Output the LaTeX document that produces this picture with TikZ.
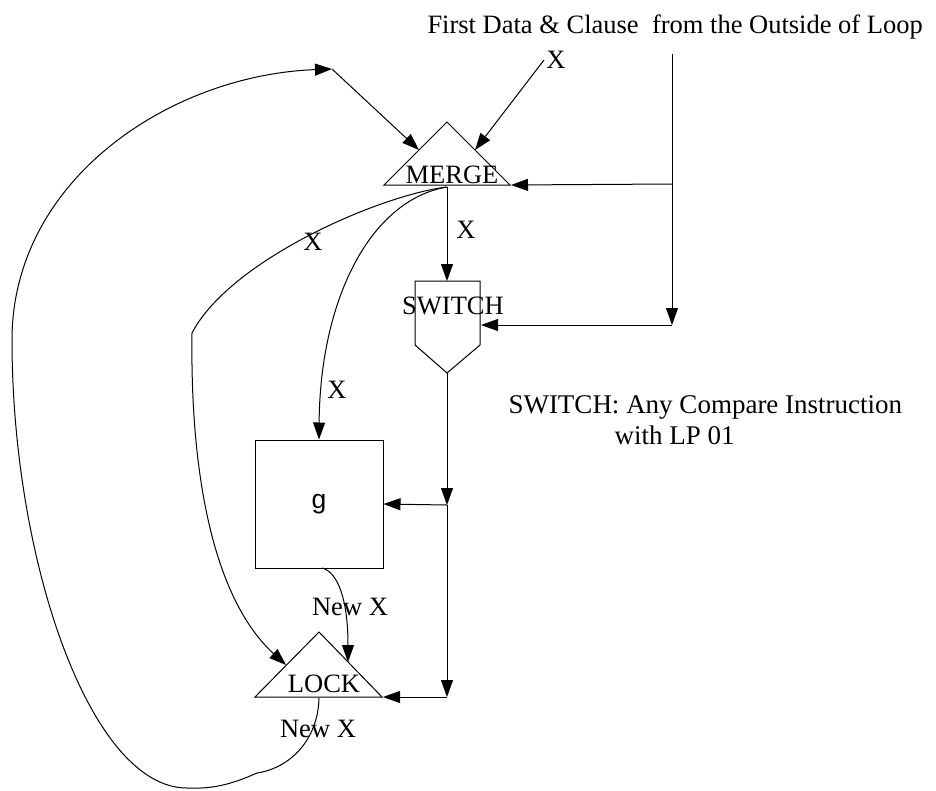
\documentclass[tikz,border=0pt]{standalone}
\usepackage{fontspec}
\setmainfont{Liberation Serif}
\newfontfamily\gfont{Liberation Sans}
\usetikzlibrary{arrows.meta}
\begin{document}
\begin{tikzpicture}[x=1pt,y=-1pt,line width=1pt,
  arr/.style={-{Triangle[length=17pt,width=12pt]}},
  lbl/.style={font=\fontsize{26.5}{30}\selectfont,inner sep=0pt,anchor=base},
  shp/.style={draw,line width=1pt,line join=miter}]
\fill[white] (0,0) rectangle (936,790);
\useasboundingbox (0,0) rectangle (936,790);

% ---- shapes ----
\draw[shp] (384,185) -- (447,122) -- (510,185) -- cycle;
\node[lbl] (mergetxt) at (452,183) {MERGE};
\draw[shp] (415,281) -- (480,281) -- (480,345) -- (447,373) -- (415,345) -- cycle;
\node[lbl] (switchtxt) at (453,314) {SWITCH};
\node[draw,line width=1pt,minimum width=128pt,minimum height=128pt,inner sep=0pt,
      font=\gfont\fontsize{26.5}{30}\selectfont] (g) at (319,504) {g};
\draw[shp] (255,697) -- (319,632) -- (382,697) -- cycle;
\node[lbl] (locktxt) at (324,692) {LOCK};

% ---- coordinates ----
\coordinate (mergeL) at (419,150);
\coordinate (mergeR) at (475,150);
\coordinate (mergeB) at (447,187);
\coordinate (mergeBR) at (511,185);
\coordinate (swT) at (447,281);
\coordinate (swR) at (481,325);
\coordinate (swB) at (447,373);
\coordinate (lockL) at (286,665);
\coordinate (lockR) at (348,662);
\coordinate (lockB) at (319,698);
\coordinate (lockBR) at (383,697);
\coordinate (rtop) at (672,54);
\coordinate (jA) at (672,184);
\coordinate (jB) at (672,325);
\coordinate (jC) at (447,505);
\coordinate (jD) at (447,697);
\coordinate (loopTop) at (332,69);
\coordinate (kink) at (257,773);
\coordinate (xstart) at (544,60);
\coordinate (bend) at (192,333);

% ---- texts ----
\node[lbl,anchor=base west] (title) at (427,33) {First Data \& Clause\ \ from the Outside of Loop};
\node[lbl] (xtop) at (556,68) {X};
\node[lbl] (xmid) at (466,238) {X};
\node[lbl] (xout) at (313,250) {X};
\node[lbl] (xin) at (337,398) {X};
\node[lbl] (newx1) at (350,615) {New X};
\node[lbl] (newx2) at (318,737) {New X};
\node[lbl,anchor=base west,font=\fontsize{27}{30}\selectfont] (cap1) at (508,413) {SWITCH: Any Compare Instruction};
\node[lbl,anchor=base west,font=\fontsize{27}{30}\selectfont] (cap2) at (614,444) {with LP 01};

% ---- connectors ----
\draw[arr] (rtop) -- (jB);
\draw[arr] (jA) -- (mergeBR);
\draw[arr] (jB) -- (swR);
\draw[arr] (xstart) -- (mergeR);
\draw[arr] (loopTop) -- (mergeL);
\draw[arr] (mergeB) -- (swT);
\draw[arr] (swB) -- (jC);
\draw[arr] (jC) -- (g.east);
\draw[arr] (jC) -- (jD);
\draw[arr] (jD) -- (lockBR);
\draw[arr] (mergeB) .. controls (370,200) and (320,300) .. (g.north);
\draw (mergeB) .. controls (380,195) and (230,260) .. (bend);
\draw[arr] (bend) .. controls (190,480) and (215,600) .. (lockL);
\draw[arr] (322,568) .. controls (338,572) and (348,600) .. (lockR);
\draw (lockB) .. controls (318,740) and (290,768) .. (kink);
\draw[arr] (kink) .. controls (230,785) and (212,789) .. (187,788)
  .. controls (90,788) and (12,560) .. (12,340)
  .. controls (12,180) and (170,75) .. (loopTop);
\end{tikzpicture}
\end{document}
